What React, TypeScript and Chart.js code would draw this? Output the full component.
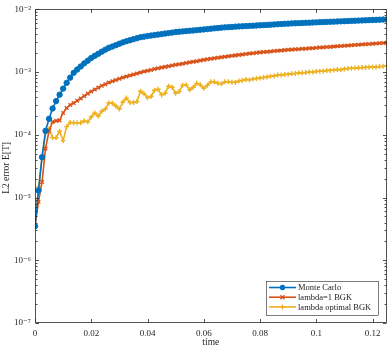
import { useEffect, useRef } from "react";
import { Chart, registerables } from "chart.js";

Chart.register(...registerables);

const timeStep = 0.00125;
const times: number[] = Array.from({ length: 101 }, (_, i) => i * timeStep);

const monteCarlo = [
  3.5e-6, 1.3e-5, 4.4e-5, 1.16e-4, 1.8e-4, 2.63e-4, 3.45e-4, 4.37e-4, 5.46e-4, 6.74e-4, 8.17e-4, 9.75e-4,
  1.1e-3, 1.23e-3, 1.38e-3, 1.52e-3, 1.68e-3, 1.82e-3, 1.96e-3, 2.12e-3, 2.28e-3, 2.44e-3,
  2.56e-3, 2.69e-3, 2.84e-3, 2.98e-3, 3.11e-3, 3.22e-3, 3.35e-3, 3.47e-3, 3.6e-3, 3.68e-3,
  3.76e-3, 3.83e-3, 3.9e-3, 3.97e-3, 4.04e-3, 4.12e-3, 4.19e-3, 4.27e-3, 4.35e-3, 4.41e-3,
  4.46e-3, 4.51e-3, 4.56e-3, 4.61e-3, 4.67e-3, 4.74e-3, 4.79e-3, 4.85e-3, 4.92e-3, 4.99e-3,
  5.04e-3, 5.12e-3, 5.17e-3, 5.21e-3, 5.25e-3, 5.31e-3, 5.35e-3, 5.38e-3, 5.42e-3, 5.46e-3,
  5.5e-3, 5.54e-3, 5.58e-3, 5.62e-3, 5.66e-3, 5.7e-3, 5.75e-3, 5.81e-3, 5.85e-3, 5.89e-3,
  5.93e-3, 5.98e-3, 6.01e-3, 6.04e-3, 6.08e-3, 6.11e-3, 6.14e-3, 6.18e-3, 6.21e-3, 6.25e-3,
  6.28e-3, 6.31e-3, 6.35e-3, 6.38e-3, 6.42e-3, 6.45e-3, 6.49e-3, 6.52e-3, 6.56e-3, 6.6e-3,
  6.63e-3, 6.67e-3, 6.7e-3, 6.74e-3, 6.78e-3, 6.81e-3, 6.85e-3, 6.89e-3, 6.92e-3,
];

const lambdaOne = [
  3.5e-6, 8.6e-6, 1.77e-5, 6.07e-5, 1.16e-4, 1.61e-4, 1.67e-4, 1.7e-4, 2.23e-4, 2.68e-4, 2.99e-4, 3.21e-4,
  3.51e-4, 3.8e-4, 4.16e-4, 4.54e-4, 4.92e-4, 5.29e-4, 5.66e-4, 6.04e-4, 6.43e-4, 6.81e-4,
  7.14e-4, 7.46e-4, 7.81e-4, 8.19e-4, 8.52e-4, 8.84e-4, 9.17e-4, 9.54e-4, 9.89e-4, 1.022e-3,
  1.052e-3, 1.083e-3, 1.119e-3, 1.152e-3, 1.181e-3, 1.212e-3, 1.243e-3, 1.274e-3, 1.307e-3, 1.336e-3,
  1.365e-3, 1.395e-3, 1.431e-3, 1.463e-3, 1.495e-3, 1.533e-3, 1.567e-3, 1.601e-3, 1.63e-3, 1.66e-3,
  1.69e-3, 1.721e-3, 1.752e-3, 1.785e-3, 1.817e-3, 1.85e-3, 1.884e-3, 1.911e-3, 1.939e-3, 1.975e-3,
  2.005e-3, 2.034e-3, 2.064e-3, 2.086e-3, 2.116e-3, 2.139e-3, 2.171e-3, 2.194e-3, 2.218e-3, 2.242e-3,
  2.267e-3, 2.283e-3, 2.308e-3, 2.325e-3, 2.35e-3, 2.367e-3, 2.393e-3, 2.411e-3, 2.437e-3, 2.463e-3,
  2.482e-3, 2.509e-3, 2.526e-3, 2.554e-3, 2.582e-3, 2.601e-3, 2.629e-3, 2.648e-3, 2.677e-3, 2.706e-3,
  2.726e-3, 2.756e-3, 2.776e-3, 2.806e-3, 2.837e-3, 2.857e-3, 2.889e-3, 2.909e-3, 2.942e-3,
];

const lambdaOptimal = [
  3.5e-6, 1.48e-5, 4.38e-5, 1.08e-4, 1.25e-4, 9.04e-5, 9.0e-5, 1.14e-4, 8.1e-5, 1.35e-4, 1.58e-4, 1.56e-4,
  1.56e-4, 1.56e-4, 1.67e-4, 1.61e-4, 1.93e-4, 2.23e-4, 2.0e-4, 2.38e-4, 2.58e-4, 3.21e-4,
  3.2e-4, 2.88e-4, 2.58e-4, 3.33e-4, 3.85e-4, 3.27e-4, 3.27e-4, 3.39e-4, 4.95e-4, 4.53e-4,
  3.92e-4, 4.09e-4, 5.14e-4, 5.32e-4, 4.33e-4, 4.61e-4, 5.94e-4, 5.73e-4, 4.61e-4, 4.9e-4,
  6.15e-4, 6.27e-4, 5.23e-4, 5.73e-4, 6.62e-4, 6.27e-4, 5.52e-4, 6.15e-4, 6.99e-4, 6.99e-4,
  6.62e-4, 6.5e-4, 6.99e-4, 7.04e-4, 6.91e-4, 6.86e-4, 7.24e-4, 7.38e-4, 7.65e-4, 7.51e-4,
  7.79e-4, 7.93e-4, 8.08e-4, 8.22e-4, 8.38e-4, 8.59e-4, 8.69e-4, 9.0e-4, 8.97e-4, 9.17e-4,
  9.27e-4, 9.4e-4, 9.51e-4, 9.68e-4, 9.75e-4, 9.86e-4, 1.004e-3, 1.002e-3, 1.022e-3, 1.03e-3,
  1.033e-3, 1.06e-3, 1.065e-3, 1.08e-3, 1.1e-3, 1.09e-3, 1.12e-3, 1.14e-3, 1.15e-3, 1.16e-3,
  1.17e-3, 1.18e-3, 1.19e-3, 1.2e-3, 1.21e-3, 1.21e-3, 1.225e-3, 1.235e-3, 1.25e-3,
];

const seriesNames = ["Monte Carlo", "lambda=1 BGK", "lambda optimal BGK"];
const seriesColors = ["#0072BD", "#D95319", "#EDB120"];
const seriesMarkers = ["circle", "crossRot", "cross"];

const xTicks = [0, 0.02, 0.04, 0.06, 0.08, 0.1, 0.12];
const xTickLabels = ["0", "0.02", "0.04", "0.06", "0.08", "0.1", "0.12"];
const yTicks = [1e-7, 1e-6, 1e-5, 1e-4, 1e-3, 1e-2];
const yTickLabels = ["10⁻⁷", "10⁻⁶", "10⁻⁵", "10⁻⁴", "10⁻³", "10⁻²"];

const xTitle = "time";
const yTitle = "L2 error E[T]";

const FONT = "'Liberation Serif', 'DejaVu Serif', serif";
const AXIS_COLOR = "#262626";

function drawMarker(ctx: CanvasRenderingContext2D, style: string, x: number, y: number, r: number, color: string) {
  ctx.save();
  ctx.fillStyle = color;
  ctx.strokeStyle = color;
  ctx.lineWidth = 1.3;
  ctx.beginPath();
  if (style === "circle") {
    ctx.arc(x, y, r, 0, Math.PI * 2);
    ctx.fill();
  } else if (style === "crossRot") {
    const d = r * 0.8;
    ctx.moveTo(x - d, y - d);
    ctx.lineTo(x + d, y + d);
    ctx.moveTo(x - d, y + d);
    ctx.lineTo(x + d, y - d);
    ctx.stroke();
  } else {
    ctx.moveTo(x - r, y);
    ctx.lineTo(x + r, y);
    ctx.moveTo(x, y - r);
    ctx.lineTo(x, y + r);
    ctx.stroke();
  }
  ctx.restore();
}

const framePlugin = {
  id: "matlabFrame",
  afterDatasetsDraw(chart: any) {
    const { ctx, chartArea, scales } = chart;
    const { left, right, top, bottom } = chartArea;
    const xs = scales.x;
    const ys = scales.y;
    ctx.save();
    ctx.strokeStyle = AXIS_COLOR;
    ctx.lineWidth = 0.8;
    const L = Math.round(left) + 0.5;
    const R = Math.round(right) - 0.5;
    const T = Math.round(top) + 0.5;
    const B = Math.round(bottom) - 0.5;
    ctx.beginPath();
    ctx.rect(L, T, R - L, B - T);
    ctx.stroke();
    ctx.beginPath();
    const major = 3.5;
    const minor = 2;
    for (const v of xTicks) {
      const px = Math.round(xs.getPixelForValue(v)) + 0.5;
      ctx.moveTo(px, B);
      ctx.lineTo(px, B - major);
      ctx.moveTo(px, T);
      ctx.lineTo(px, T + major);
    }
    for (let i = 0; i < yTicks.length; i++) {
      const py = Math.round(ys.getPixelForValue(yTicks[i])) + 0.5;
      ctx.moveTo(L, py);
      ctx.lineTo(L + major, py);
      ctx.moveTo(R, py);
      ctx.lineTo(R - major, py);
      if (i < yTicks.length - 1) {
        for (let m = 2; m <= 9; m++) {
          const pm = Math.round(ys.getPixelForValue(yTicks[i] * m)) + 0.5;
          ctx.moveTo(L, pm);
          ctx.lineTo(L + minor, pm);
          ctx.moveTo(R, pm);
          ctx.lineTo(R - minor, pm);
        }
      }
    }
    ctx.stroke();

    ctx.fillStyle = AXIS_COLOR;
    ctx.font = `9.5px ${FONT}`;
    ctx.textAlign = "center";
    ctx.textBaseline = "middle";
    ctx.fillText(xTitle, (left + right) / 2, 342.5);
    ctx.save();
    ctx.translate(6, 168);
    ctx.rotate(-Math.PI / 2);
    ctx.fillText(yTitle, 0, 0);
    ctx.restore();
    ctx.restore();
  },
  afterDraw(chart: any) {
    const { ctx, chartArea } = chart;
    const bx = Math.round(chartArea.right - 121);
    const by = Math.round(chartArea.bottom - 42);
    const bw = 112;
    const bh = 34;
    ctx.save();
    ctx.fillStyle = "#ffffff";
    ctx.fillRect(bx, by, bw, bh);
    ctx.strokeStyle = AXIS_COLOR;
    ctx.lineWidth = 0.6;
    ctx.strokeRect(bx + 0.5, by + 0.5, bw, bh);
    ctx.font = `8.5px ${FONT}`;
    ctx.textBaseline = "middle";
    ctx.textAlign = "left";
    chart.data.datasets.forEach((ds: any, i: number) => {
      const ry = by + 6.5 + i * 9.7;
      ctx.strokeStyle = ds.borderColor;
      ctx.lineWidth = 1.6;
      ctx.beginPath();
      ctx.moveTo(bx + 3, ry);
      ctx.lineTo(bx + 30, ry);
      ctx.stroke();
      drawMarker(ctx, ds.pointStyle, bx + 16.5, ry, ds.pointRadius, ds.borderColor);
      ctx.fillStyle = AXIS_COLOR;
      ctx.fillText(ds.label, bx + 32, ry + 0.5);
    });
    ctx.restore();
  },
};

export default function App() {
  const ref = useRef<HTMLCanvasElement | null>(null);
  useEffect(() => {
    document.body.style.margin = "0";
    if (!ref.current) return;
    const series = [monteCarlo, lambdaOne, lambdaOptimal];
    const chart = new Chart(ref.current, {
      type: "line",
      data: {
        datasets: series.map((vals, i) => ({
          label: seriesNames[i],
          data: vals.map((v, k) => ({ x: times[k], y: v })),
          borderColor: seriesColors[i],
          backgroundColor: seriesColors[i],
          pointBackgroundColor: seriesColors[i],
          pointBorderColor: seriesColors[i],
          pointStyle: seriesMarkers[i],
          pointRadius: i === 0 ? 2.7 : 2.5,
          pointBorderWidth: i === 0 ? 1 : 1.4,
          borderWidth: 1.6,
          fill: false,
          tension: 0,
        })),
      },
      plugins: [framePlugin],
      options: {
        animation: false,
        responsive: false,
        layout: { padding: { top: 5, right: 4, left: 0, bottom: 0 } },
        plugins: { legend: { display: false }, tooltip: { enabled: false } },
        scales: {
          x: {
            type: "linear",
            min: 0,
            max: 0.125,
            afterBuildTicks: (s: any) => {
              s.ticks = xTicks.map((v) => ({ value: v }));
            },
            afterFit: (s: any) => {
              s.height = 25;
            },
            grid: { display: false, drawTicks: false },
            border: { display: false },
            ticks: {
              autoSkip: false,
              maxRotation: 0,
              padding: 5,
              color: AXIS_COLOR,
              font: { family: FONT, size: 9 },
              callback: (v: any) => {
                const idx = xTicks.findIndex((t) => Math.abs(t - Number(v)) < 1e-9);
                return idx >= 0 ? xTickLabels[idx] : "";
              },
            },
          },
          y: {
            type: "logarithmic",
            min: 1e-7,
            max: 1e-2,
            afterBuildTicks: (s: any) => {
              s.ticks = yTicks.map((v) => ({ value: v, major: true }));
            },
            afterFit: (s: any) => {
              s.width = 35;
            },
            grid: { display: false, drawTicks: false },
            border: { display: false },
            ticks: {
              autoSkip: false,
              padding: 4,
              color: AXIS_COLOR,
              font: { family: FONT, size: 9 },
              callback: (v: any) => {
                const idx = yTicks.findIndex((t) => Math.abs(Math.log10(t) - Math.log10(Number(v))) < 1e-6);
                return idx >= 0 ? yTickLabels[idx] : "";
              },
            },
          },
        },
      },
    } as any);
    return () => chart.destroy();
  }, []);
  return (
    <div style={{ width: 392, height: 348 }}>
      <canvas ref={ref} width={392} height={348} style={{ display: "block" }} />
    </div>
  );
}
